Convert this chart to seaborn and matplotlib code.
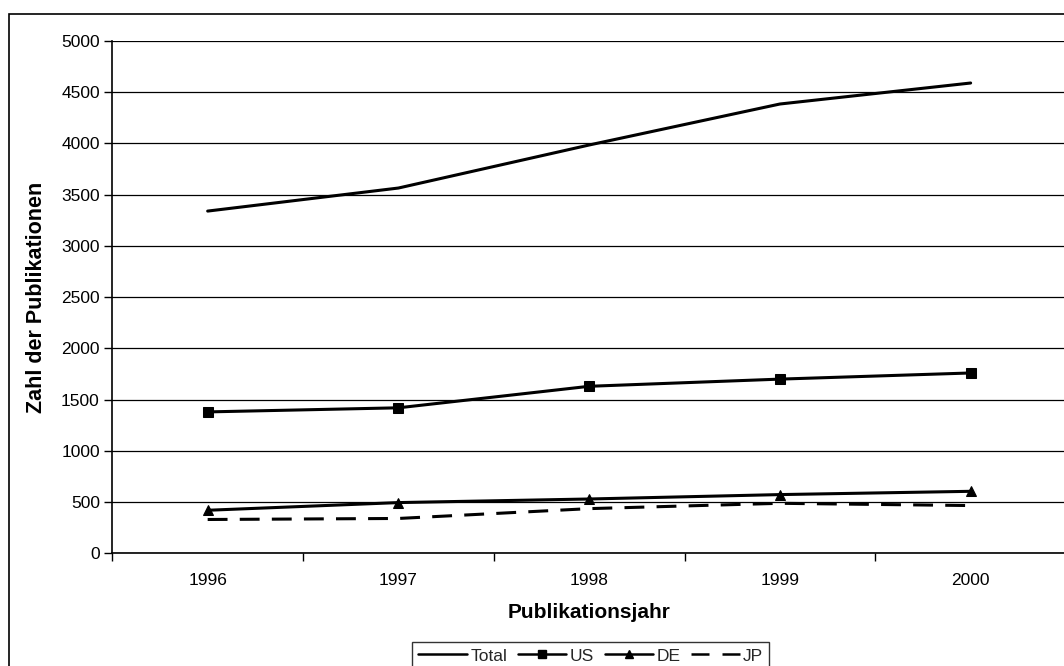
import matplotlib
matplotlib.use("Agg")
import matplotlib.pyplot as plt
import seaborn as sns
import pandas as pd
from matplotlib.patches import Rectangle
from matplotlib.lines import Line2D

years = ["1996", "1997", "1998", "1999", "2000"]
total = [3340, 3565, 3985, 4385, 4590]
us = [1380, 1420, 1630, 1700, 1760]
de = [420, 495, 530, 573, 605]
jp = [330, 340, 436, 488, 466]

sns.set_theme(style="white")
plt.rcParams['font.family'] = ['Liberation Sans', 'DejaVu Sans']

W, H = 1064, 666
fig = plt.figure(figsize=(W / 100, H / 100), dpi=100)
fig.patch.set_facecolor("white")

left, right, top, bottom = 112.3, 1066, 41, 553.3
aw, ah = right - left, bottom - top
ax = fig.add_axes([left / W, 1 - bottom / H, aw / W, ah / H])

pos = list(range(len(years)))
series = [
    ("Total", total, dict(marker=None, linestyle="-")),
    ("US", us, dict(marker="s", linestyle="-")),
    ("DE", de, dict(marker="^", linestyle="-")),
    ("JP", jp, dict(marker=None, linestyle=(0, (6.5, 4)))),
]
for name, vals, st in series:
    df = pd.DataFrame({"x": pos, "y": vals})
    sns.lineplot(data=df, x="x", y="y", ax=ax, color="black", linewidth=2.2,
                 marker=st["marker"], markersize=7.5, markeredgecolor="black",
                 linestyle=st["linestyle"], label=name, legend=False)

ax.set_xlim(-0.5, len(years) - 0.5)
ax.set_ylim(0, 5000)
ax.set_yticks(range(0, 5001, 500))
ax.yaxis.grid(True, color="black", linewidth=0.9)
ax.set_axisbelow(True)

ax.set_xticks([p - 0.5 for p in range(len(years) + 1)])
ax.set_xticklabels([])
ax.set_xticks(pos, minor=True)
ax.set_xticklabels(years, minor=True)
ax.tick_params(axis="x", which="major", direction="out", length=6, width=1, color="black", bottom=True)
ax.tick_params(axis="x", which="minor", length=0, pad=14, labelsize=12.5, labelcolor="black")
ax.tick_params(axis="y", direction="out", length=6, width=1, color="black", left=True, pad=3,
               labelsize=12.5, labelcolor="black")

for s in ["top", "right"]:
    ax.spines[s].set_visible(False)
for s in ["left", "bottom"]:
    ax.spines[s].set_color("black")
    ax.spines[s].set_linewidth(1.2)

ax.set_xlabel("Publikationsjahr", fontsize=15, fontweight="bold", color="black")
ax.set_ylabel("Zahl der Publikationen", fontsize=15.5, fontweight="bold", color="black")
ax.yaxis.set_label_coords((47 - left) / aw, 0.5)
ax.xaxis.set_label_coords(0.5, (bottom - 603) / ah)

handles = [
    Line2D([], [], color="black", lw=1.8, linestyle="-"),
    Line2D([], [], color="black", lw=1.8, marker="s", markersize=5.5),
    Line2D([], [], color="black", lw=1.8, marker="^", markersize=5.5),
    Line2D([], [], color="black", lw=1.8, linestyle=(0, (7.2, 5.2))),
]
leg = fig.legend(handles, ["Total", "US", "DE", "JP"], loc="upper left",
                 bbox_to_anchor=(412.3 / W, 1 - 642.3 / H), ncol=4, frameon=True,
                 fontsize=12.5, handlelength=2.8, handletextpad=0.2, columnspacing=0.6,
                 borderpad=0.35, borderaxespad=0, fancybox=False)
leg.get_frame().set_edgecolor("black")
leg.get_frame().set_linewidth(1.0)

fig.patches.append(Rectangle((8.7 / W, -0.5), 2, 0.5 + 1 - 14 / H, transform=fig.transFigure,
                             fill=False, edgecolor="black", linewidth=1.2))

fig.savefig("out.png", dpi=100)
